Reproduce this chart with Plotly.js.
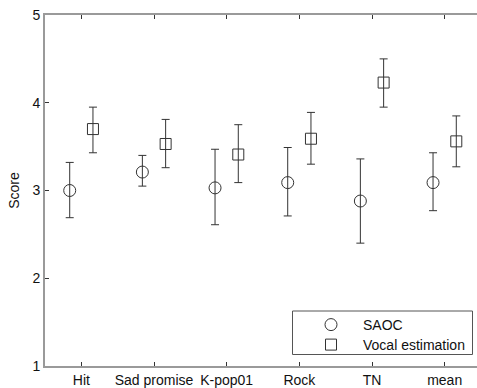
<!DOCTYPE html>
<html>
<head>
<meta charset="utf-8">
<script src="https://cdn.plot.ly/plotly-3.0.1.min.js"></script>
<style>
html,body{margin:0;padding:0;overflow:hidden;background:#fff;}
#chart{width:482px;height:388px;}
</style>
</head>
<body>
<div id="chart"></div>
<script>
const categories = ["Hit", "Sad promise", "K-pop01", "Rock", "TN", "mean"];
const saocMean  = [3.00, 3.21, 3.03, 3.09, 2.88, 3.09];
const saocUpper = [3.32, 3.40, 3.47, 3.49, 3.36, 3.43];
const saocLower = [2.69, 3.05, 2.61, 2.71, 2.40, 2.77];
const vocalMean  = [3.70, 3.53, 3.41, 3.59, 4.23, 3.56];
const vocalUpper = [3.95, 3.81, 3.75, 3.89, 4.50, 3.85];
const vocalLower = [3.43, 3.26, 3.09, 3.30, 3.95, 3.27];

const pos = categories.map((c, i) => i + 1);
const off = 0.16;
const font = {family: "Liberation Sans, Arial, sans-serif", size: 14, color: "#111"};

const traces = [
  {
    name: "SAOC", type: "scatter", mode: "markers", legend: "legend",
    x: pos.map(p => p - off), y: saocMean,
    marker: {symbol: "circle-open", size: 12, color: "#333", line: {width: 1, color: "#333"}},
    error_y: {type: "data", symmetric: false,
      array: saocUpper.map((u, i) => u - saocMean[i]),
      arrayminus: saocMean.map((m, i) => m - saocLower[i]),
      color: "#333", thickness: 1, width: 4}
  },
  {
    name: "Vocal estimation", type: "scatter", mode: "markers", legend: "legend2",
    x: pos.map(p => p + off), y: vocalMean,
    marker: {symbol: "square-open", size: 11, color: "#333", line: {width: 1, color: "#333"}},
    error_y: {type: "data", symmetric: false,
      array: vocalUpper.map((u, i) => u - vocalMean[i]),
      arrayminus: vocalMean.map((m, i) => m - vocalLower[i]),
      color: "#333", thickness: 1, width: 4}
  }
];

const W = 482, H = 388, ml = 45, mr = 1, mt = 15, mb = 22;
const pw = W - ml - mr, ph = H - mt - mb;
const px = v => (v - ml) / pw;
const py = v => 1 - (v - mt) / ph;

const legendBase = {
  xanchor: "left", yanchor: "top",
  bgcolor: "rgba(0,0,0,0)", borderwidth: 0,
  itemwidth: 54, font: font, tracegroupgap: 0
};

const layout = {
  width: W, height: H,
  margin: {l: ml, r: mr, t: mt, b: mb, pad: 0},
  paper_bgcolor: "#fff", plot_bgcolor: "#fff",
  font: font,
  showlegend: true,
  xaxis: {
    range: [0.5, 6.5], tickvals: pos, ticktext: categories,
    showgrid: false, zeroline: false,
    showline: true, linecolor: "#9a9a9a", linewidth: 2, mirror: "ticks",
    ticks: "inside", ticklen: 4, tickcolor: "#333", tickwidth: 1,
    tickfont: font
  },
  yaxis: {
    range: [1, 5], tickvals: [1, 2, 3, 4, 5],
    showgrid: false, zeroline: false,
    showline: true, linecolor: "#9a9a9a", linewidth: 2, mirror: "ticks",
    ticks: "inside", ticklen: 4, tickcolor: "#333", tickwidth: 1,
    tickfont: font,
    title: {text: "Score", font: font, standoff: 10}
  },
  legend: Object.assign({}, legendBase, {x: px(299), y: py(309)}),
  legend2: Object.assign({}, legendBase, {x: px(299), y: py(329)}),
  shapes: [{
    type: "rect", xref: "paper", yref: "paper",
    x0: px(292.5), x1: px(472.5), y0: py(311), y1: py(354.5),
    line: {color: "#555", width: 1}, fillcolor: "rgba(0,0,0,0)"
  }]
};

Plotly.newPlot("chart", traces, layout, {displayModeBar: false, staticPlot: true});
</script>
</body>
</html>
